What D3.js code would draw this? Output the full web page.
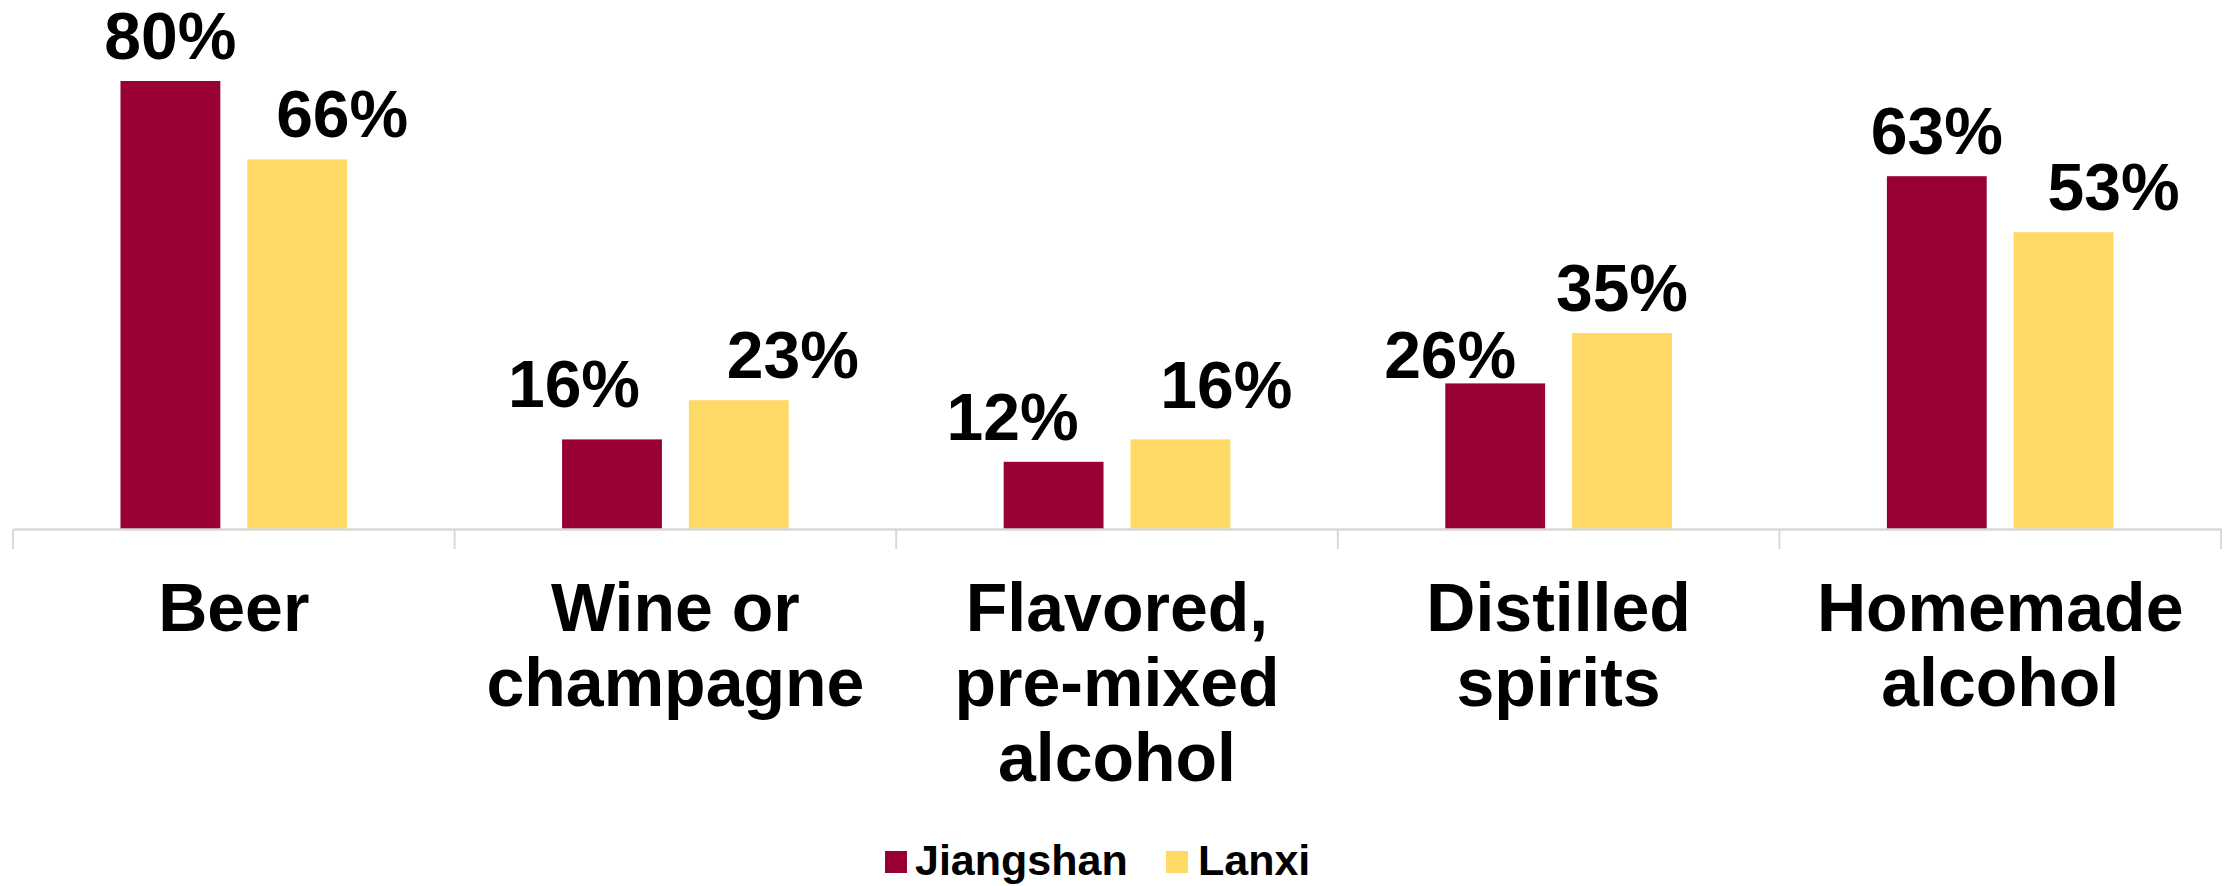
<!DOCTYPE html>
<html>
<head>
<meta charset="utf-8">
<script src="https://cdn.jsdelivr.net/npm/d3@7"></script>
<style>
  html, body { margin: 0; padding: 0; background: #ffffff; }
  svg { display: block; }
  text { font-family: "Liberation Sans", Arial, sans-serif; font-weight: bold; fill: #000; }
</style>
</head>
<body>
<svg id="chart" width="2236" height="886"></svg>
<script>
// ---- data ----
const categories = ["Beer", "Wine or champagne", "Flavored, pre-mixed alcohol", "Distilled spirits", "Homemade alcohol"];
const categoryLines = [["Beer"], ["Wine or", "champagne"], ["Flavored,", "pre-mixed", "alcohol"], ["Distilled", "spirits"], ["Homemade", "alcohol"]];
const seriesNames = ["Jiangshan", "Lanxi"];
const jiangshan = [0.80, 0.16, 0.12, 0.26, 0.63];
const lanxi = [0.66, 0.23, 0.16, 0.35, 0.53];

// ---- layout / style ----
const W = 2236, H = 886;
const colors = { Jiangshan: "#990033", Lanxi: "#FFD966" };
const axisY = 529, plotTop = 81, axisLeft = 13, axisRight = 2221;
// manual label nudges (as placed in the original), [dx, dy] per series per category
const labelNudge = {
  Jiangshan: [[0, 0], [-38, -10], [-41, 0], [-45, 17], [0, 0]],
  Lanxi:     [[45, 0], [54, 0], [46, -9], [0, 0], [50, 0]]
};

const svg = d3.select("#chart");
const seriesData = { Jiangshan: jiangshan, Lanxi: lanxi };

const x0 = d3.scaleBand().domain(categories).range([axisLeft, axisRight]).paddingInner(0).paddingOuter(0);
const bw = x0.bandwidth();
const outer = bw * 0.2434;
const x1 = d3.scaleBand().domain(seriesNames).range([outer, bw - outer]).paddingInner(0.2126).paddingOuter(0);
const y = d3.scaleLinear().domain([0, 0.8]).range([axisY, plotTop]);

// bars
categories.forEach((c, i) => {
  seriesNames.forEach(s => {
    const v = seriesData[s][i];
    svg.append("rect")
      .attr("x", x0(c) + x1(s))
      .attr("y", y(v))
      .attr("width", x1.bandwidth())
      .attr("height", y(0) - y(v))
      .attr("fill", colors[s]);
  });
});

// axis line and ticks
const xAxis = d3.axisBottom(x0).tickSize(0).tickFormat("");
const axisG = svg.append("g").attr("transform", `translate(0,${axisY})`).call(xAxis);
axisG.select(".domain").attr("stroke", "#d9d9d9").attr("stroke-width", 2.5);
const boundaries = categories.map(c => x0(c)).concat([x0(categories[categories.length - 1]) + bw]);
svg.append("g").selectAll("line").data(boundaries).join("line")
  .attr("x1", d => d).attr("x2", d => d)
  .attr("y1", axisY).attr("y2", axisY + 20)
  .attr("stroke", "#d9d9d9").attr("stroke-width", 2);

// value labels
const fmt = d3.format(".0%");
categories.forEach((c, i) => {
  seriesNames.forEach(s => {
    const v = seriesData[s][i];
    const [dx, dy] = labelNudge[s][i];
    svg.append("text")
      .attr("x", x0(c) + x1(s) + x1.bandwidth() / 2 + dx)
      .attr("y", y(v) - 22 + dy)
      .attr("text-anchor", "middle")
      .attr("font-size", 66)
      .text(fmt(v));
  });
});

// category labels
categories.forEach((c, i) => {
  const t = svg.append("text")
    .attr("text-anchor", "middle")
    .attr("font-size", 68)
    .attr("x", x0(c) + bw / 2)
    .attr("y", 631);
  categoryLines[i].forEach((line, j) => {
    t.append("tspan").attr("x", x0(c) + bw / 2).attr("y", 631 + j * 75).text(line);
  });
});

// legend
const legendItems = [
  { name: "Jiangshan", sx: 885, tx: 915 },
  { name: "Lanxi", sx: 1166, tx: 1198 }
];
const lg = svg.append("g");
legendItems.forEach(d => {
  lg.append("rect").attr("x", d.sx).attr("y", 851).attr("width", 22).attr("height", 22).attr("fill", colors[d.name]);
  lg.append("text").attr("x", d.tx).attr("y", 875).attr("font-size", 43).text(d.name);
});
</script>
</body>
</html>
